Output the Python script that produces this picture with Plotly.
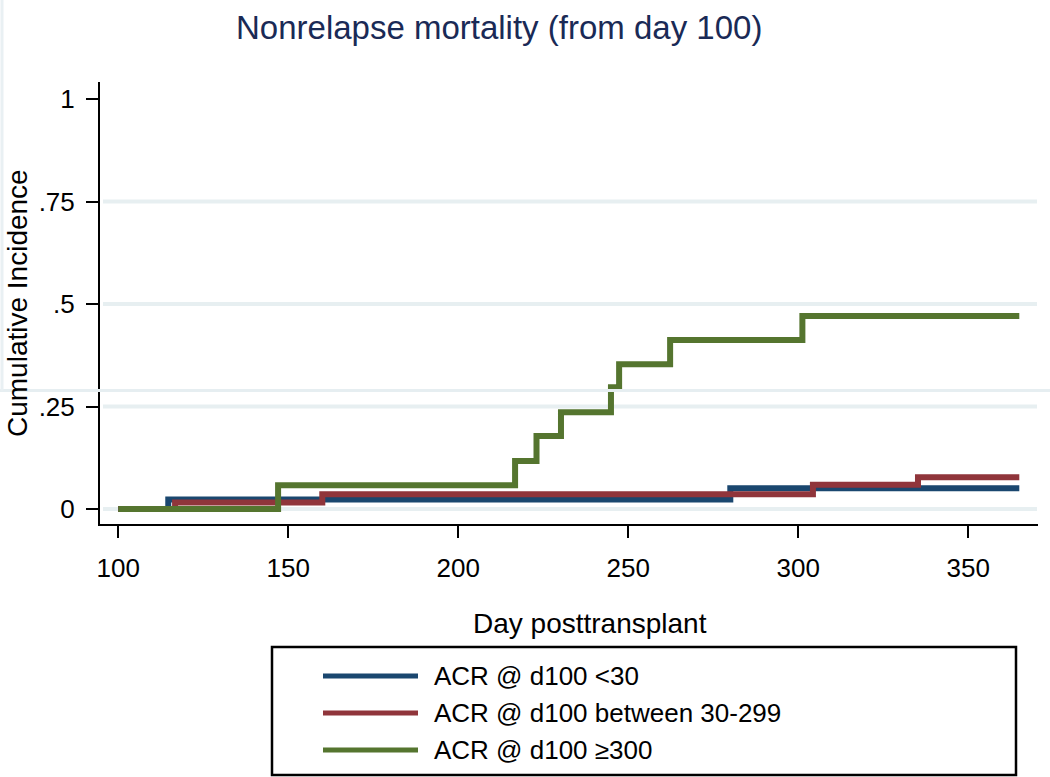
import plotly.graph_objects as go

# ---------------- data ----------------
series_names = ["ACR @ d100 <30", "ACR @ d100 between 30-299", "ACR @ d100 \u2265300"]
series_colors = ["#1a476f", "#90353b", "#55752f"]

blue_x = [100, 114.7, 280, 365]
blue_y = [0, 0.023, 0.0506, 0.0506]

red_x = [100, 116.7, 160, 304.3, 335.2, 365]
red_y = [0, 0.016, 0.036, 0.059, 0.0775, 0.0775]

green_x = [100, 147, 216.7, 223, 230.2, 244.9, 247.3, 262.3, 301.2, 365]
green_y = [0, 0.058, 0.117, 0.178, 0.236, 0.297, 0.353, 0.412, 0.471, 0.471]

x_ticks = [100, 150, 200, 250, 300, 350]
y_ticks = [0, 0.25, 0.5, 0.75, 1]
y_ticktext = ["0", ".25", ".5", ".75", "1"]
grid_vals = [0, 0.25, 0.5, 0.75]

title_text = "Nonrelapse mortality (from day 100)"
x_title = "Day posttransplant"
y_title = "Cumulative Incidence"

# ---------------- layout geometry ----------------
W, H = 1050, 777
L, R, T, B = 100, 1038, 82, 524  # plot area in pixels


def px(x):
    """pixel x -> paper coordinate (relative to plot area)"""
    return (x - L) / (R - L)


def py(y):
    """pixel y -> paper coordinate (relative to plot area)"""
    return (B - y) / (B - T)


FONT = "Liberation Sans, Arial, sans-serif"

fig = go.Figure()
for xs, ys, name, col in zip([blue_x, red_x, green_x], [blue_y, red_y, green_y],
                             series_names, series_colors):
    fig.add_trace(go.Scatter(x=xs, y=ys, mode="lines", name=name,
                             line=dict(color=col, width=6, shape="hv"),
                             showlegend=False, hoverinfo="x+y+name"))

shapes = []
# gridlines
for g in grid_vals:
    shapes.append(dict(type="line", xref="paper", yref="y",
                       x0=px(103), x1=px(1037), y0=g, y1=g,
                       line=dict(color="#e7eff1", width=4), layer="below"))

# legend box
box_l, box_t, box_r, box_b = 272, 647, 1016, 775
shapes.append(dict(type="rect", xref="paper", yref="paper",
                   x0=px(box_l), x1=px(box_r), y0=py(box_b), y1=py(box_t),
                   line=dict(color="black", width=2.5), fillcolor="white"))
row_y = [676, 713, 750]
annotations = []
for name, col, ry in zip(series_names, series_colors, row_y):
    shapes.append(dict(type="line", xref="paper", yref="paper",
                       x0=px(323), x1=px(418), y0=py(ry), y1=py(ry),
                       line=dict(color=col, width=5)))
    annotations.append(dict(text=name, xref="paper", yref="paper",
                            x=px(432), y=py(ry), xanchor="left", yanchor="middle",
                            showarrow=False, font=dict(size=26, color="black", family=FONT)))

# faint seam artifacts seen in the reference image
shapes.append(dict(type="line", xref="paper", yref="paper",
                   x0=px(0), x1=px(W), y0=py(390.5), y1=py(390.5),
                   line=dict(color="#e6eef1", width=3), layer="above"))
shapes.append(dict(type="line", xref="paper", yref="paper",
                   x0=px(2), x1=px(2), y0=py(390.5), y1=py(0),
                   line=dict(color="#e9f0f3", width=3), layer="above"))

# titles
annotations.append(dict(text=title_text, xref="paper", yref="paper",
                        x=px(499), y=py(28), xanchor="center", yanchor="middle",
                        showarrow=False, font=dict(size=33, color="#1a2a56", family=FONT)))
annotations.append(dict(text=x_title, xref="paper", yref="paper",
                        x=px(590), y=py(623), xanchor="center", yanchor="middle",
                        showarrow=False, font=dict(size=28, color="black", family=FONT)))
annotations.append(dict(text=y_title, xref="paper", yref="paper",
                        x=px(17), y=py(303), xanchor="center", yanchor="middle",
                        textangle=-90,
                        showarrow=False, font=dict(size=28, color="black", family=FONT)))

fig.update_layout(
    width=W, height=H,
    margin=dict(l=L, r=W - R, t=T, b=H - B, pad=0),
    paper_bgcolor="white", plot_bgcolor="white",
    font=dict(family=FONT, color="black", size=26),
    shapes=shapes, annotations=annotations,
    showlegend=False,
)
fig.update_xaxes(range=[94.62, 370.5], tickvals=x_ticks, ticks="outside", ticklen=12,
                 tickwidth=2, tickcolor="black", showline=True, linewidth=2,
                 linecolor="black", showgrid=False, zeroline=False,
                 ticklabelstandoff=8,
                 tickfont=dict(size=26, family=FONT, color="black"))
fig.update_yaxes(range=[-0.0366, 1.0415], tickvals=y_ticks, ticktext=y_ticktext,
                 ticks="outside", ticklen=12, tickwidth=2, tickcolor="black",
                 showline=True, linewidth=2, linecolor="black", showgrid=False,
                 zeroline=False, ticklabelstandoff=6,
                 tickfont=dict(size=26, family=FONT, color="black"))

fig.write_html("out.html", config={"displayModeBar": False},
               post_script="document.body.style.margin='0px';")
